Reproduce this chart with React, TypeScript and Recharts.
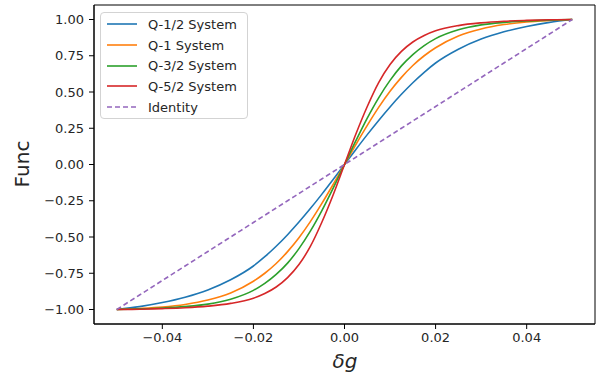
import {
  Legend,
  Line,
  LineChart,
  ReferenceArea,
  XAxis,
  YAxis,
} from "recharts";

const xs = [
  -0.05, -0.045, -0.04, -0.035, -0.03, -0.025, -0.02, -0.0175, -0.015, -0.0125, -0.01, -0.0075, -0.005,
  -0.0025, 0, 0.0025, 0.005, 0.0075, 0.01, 0.0125, 0.015, 0.0175, 0.02, 0.025, 0.03, 0.035, 0.04, 0.045,
  0.05,
];

const qHalf = [
  -1, -0.98, -0.952, -0.915, -0.865, -0.795, -0.7, -0.636, -0.564, -0.484, -0.397, -0.304, -0.206, -0.104, 0,
  0.104, 0.206, 0.304, 0.397, 0.484, 0.564, 0.636, 0.7, 0.795, 0.865, 0.915, 0.952, 0.98, 1,
];
const qOne = [
  -1, -0.993, -0.983, -0.965, -0.935, -0.886, -0.805, -0.75, -0.683, -0.601, -0.505, -0.394, -0.27, -0.138, 0,
  0.138, 0.27, 0.394, 0.505, 0.601, 0.683, 0.75, 0.805, 0.886, 0.935, 0.965, 0.983, 0.993, 1,
];
const qThreeHalf = [
  -1, -0.996, -0.99, -0.98, -0.963, -0.929, -0.868, -0.82, -0.758, -0.68, -0.58, -0.46, -0.32, -0.164, 0,
  0.164, 0.32, 0.46, 0.58, 0.68, 0.758, 0.82, 0.868, 0.929, 0.963, 0.98, 0.99, 0.996, 1,
];
const qFiveHalf = [
  -1, -0.998, -0.994, -0.988, -0.977, -0.958, -0.922, -0.89, -0.845, -0.78, -0.69, -0.565, -0.4, -0.21, 0,
  0.21, 0.4, 0.565, 0.69, 0.78, 0.845, 0.89, 0.922, 0.958, 0.977, 0.988, 0.994, 0.998, 1,
];
const identity = [
  -1, -0.9, -0.8, -0.7, -0.6, -0.5, -0.4, -0.35, -0.3, -0.25, -0.2, -0.15, -0.1, -0.05, 0, 0.05, 0.1, 0.15,
  0.2, 0.25, 0.3, 0.35, 0.4, 0.5, 0.6, 0.7, 0.8, 0.9, 1,
];

const xTicks = [-0.04, -0.02, 0, 0.02, 0.04];
const yTicks = [-1, -0.75, -0.5, -0.25, 0, 0.25, 0.5, 0.75, 1];

const series = [
  { key: "q12", name: "Q-1/2 System", color: "#1f77b4", values: qHalf, dash: undefined },
  { key: "q1", name: "Q-1 System", color: "#ff7f0e", values: qOne, dash: undefined },
  { key: "q32", name: "Q-3/2 System", color: "#2ca02c", values: qThreeHalf, dash: undefined },
  { key: "q52", name: "Q-5/2 System", color: "#d62728", values: qFiveHalf, dash: undefined },
  { key: "id", name: "Identity", color: "#9467bd", values: identity, dash: "5 3" },
];

const data = xs.map((x, i) => {
  const row: Record<string, number> = { x };
  series.forEach((s) => (row[s.key] = s.values[i]));
  return row;
});

const FONT = "'DejaVu Sans', sans-serif";
const TEXT = "#262626";
const fmt = (v: number) => v.toFixed(2).replace("-", "\u2212");

function LegendBox() {
  return (
    <div
      style={{
        border: "1px solid #d3d3d3",
        borderRadius: 4,
        background: "rgba(255,255,255,0.85)",
        padding: "1px 10px 1px 6px",
        fontFamily: FONT,
        fontSize: 13,
        color: TEXT,
      }}
    >
      {series.map((s) => (
        <div key={s.key} style={{ display: "flex", alignItems: "center", height: 20.7 }}>
          <svg width={30} height={4} style={{ marginRight: 11 }}>
            <line x1={0} y1={2} x2={30} y2={2} stroke={s.color} strokeWidth={1.6} strokeDasharray={s.dash} />
          </svg>
          <span>{s.name}</span>
        </div>
      ))}
    </div>
  );
}

export default function App() {
  return (
    <div style={{ position: "absolute", left: 0, top: 0, background: "#fff" }}>
      <LineChart width={609} height={382} data={data} margin={{ top: 5, right: 14, left: 0, bottom: 0 }}>
        <XAxis
          dataKey="x"
          type="number"
          domain={[-0.055, 0.055]}
          ticks={xTicks}
          tickFormatter={fmt}
          height={58}
          tickSize={5}
          tickMargin={4}
          stroke="#000"
          tick={{ fill: TEXT, fontSize: 13, fontFamily: FONT }}
          label={() => (
            <text x={345} y={368} textAnchor="middle" fontSize={20} fontStyle="italic" fontFamily={FONT} fill={TEXT}>
              δg
            </text>
          )}
        />
        <YAxis
          type="number"
          domain={[-1.1, 1.1]}
          ticks={yTicks}
          tickFormatter={fmt}
          width={94}
          tickSize={5}
          tickMargin={5}
          stroke="#000"
          tick={{ fill: TEXT, fontSize: 13, fontFamily: FONT }}
          label={() => (
            <text
              x={22}
              y={164}
              textAnchor="middle"
              dominantBaseline="central"
              transform="rotate(-90 22 164)"
              fontSize={20}
              fontFamily={FONT}
              fill={TEXT}
            >
              Func
            </text>
          )}
        />
        <ReferenceArea x1={-0.055} x2={0.055} y1={-1.1} y2={1.1} fill="none" stroke="#000" strokeWidth={1} />
        {series.map((s) => (
          <Line
            key={s.key}
            dataKey={s.key}
            name={s.name}
            type="monotone"
            stroke={s.color}
            strokeWidth={1.6}
            strokeDasharray={s.dash}
            dot={false}
            isAnimationActive={false}
          />
        ))}
        <Legend
          layout="vertical"
          align="center"
          verticalAlign="middle"
          wrapperStyle={{ left: 100, top: 12, width: "auto" }}
          content={() => <LegendBox />}
        />
      </LineChart>
    </div>
  );
}
